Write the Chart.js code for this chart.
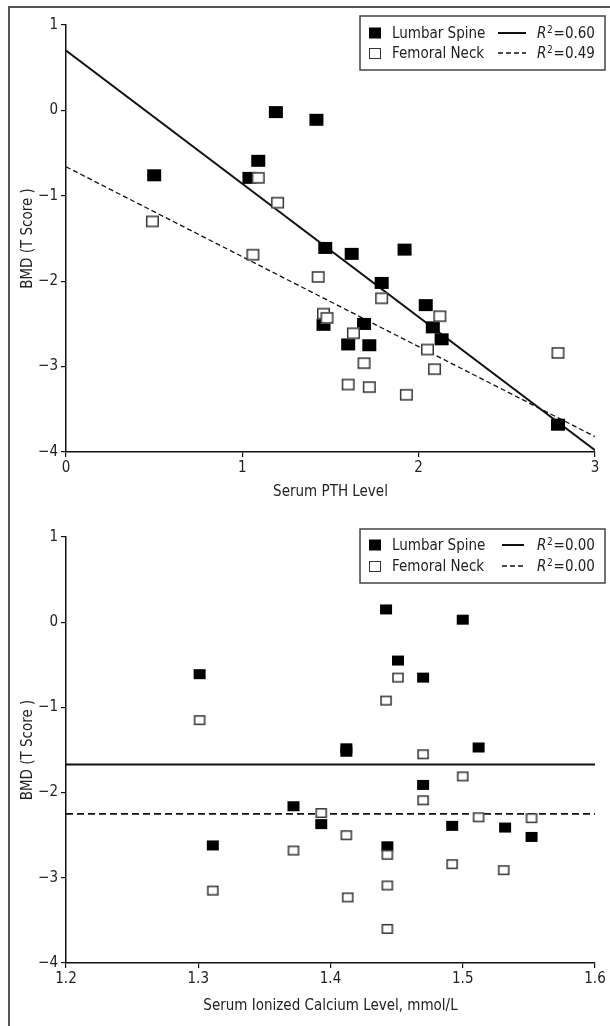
<!DOCTYPE html>
<html>
<head>
<meta charset="utf-8">
<script src="https://cdn.jsdelivr.net/npm/chart.js@4"></script>
<style>
  html, body { margin: 0; padding: 0; background: #fff; overflow: hidden; }
  body { width: 610px; height: 1026px; position: relative; }
  #frame { position: absolute; left: 8px; top: 6px; width: 700px; height: 1100px; border: 2px solid #555; box-sizing: border-box; }
  canvas { position: absolute; left: 0; }
  #pthChart { top: 0; }
  #caChart { top: 510px; }
</style>
</head>
<body>
<div id="frame"></div>
<canvas id="pthChart" width="610" height="510"></canvas>
<canvas id="caChart" width="610" height="516"></canvas>
<script>
// Datos del panel superior (PTH)
const pthLumbarX = [0.50, 1.19, 1.42, 1.09, 1.04, 1.47, 1.62, 1.92, 1.79, 2.04, 2.08, 2.13, 1.69, 1.46, 1.60, 1.72, 2.79];
const pthLumbarY = [-0.76, -0.02, -0.11, -0.59, -0.79, -1.61, -1.68, -1.63, -2.02, -2.28, -2.54, -2.68, -2.50, -2.51, -2.74, -2.75, -3.68];
const pthFemoralX = [0.49, 1.09, 1.20, 1.06, 1.43, 1.79, 1.46, 1.48, 2.12, 1.63, 2.05, 2.09, 1.69, 1.60, 1.72, 1.93, 2.79];
const pthFemoralY = [-1.30, -0.79, -1.08, -1.69, -1.95, -2.20, -2.38, -2.43, -2.41, -2.61, -2.80, -3.03, -2.96, -3.21, -3.24, -3.33, -2.84];
const pthFitX = [0, 3];
const pthLumbarFit = [0.70, -3.98];
const pthFemoralFit = [-0.66, -3.82];
const pthR2 = ['0.60', '0.49'];

// Datos del panel inferior (calcio ionizado)
const caLumbarX = [1.301, 1.442, 1.500, 1.451, 1.470, 1.412, 1.412, 1.512, 1.470, 1.372, 1.393, 1.311, 1.443, 1.492, 1.532, 1.552];
const caLumbarY = [-0.61, 0.15, 0.03, -0.45, -0.65, -1.48, -1.52, -1.47, -1.91, -2.16, -2.37, -2.62, -2.63, -2.39, -2.41, -2.52];
const caFemoralX = [1.301, 1.451, 1.442, 1.470, 1.500, 1.470, 1.393, 1.412, 1.512, 1.552, 1.372, 1.443, 1.492, 1.531, 1.311, 1.443, 1.413, 1.443];
const caFemoralY = [-1.15, -0.65, -0.92, -1.55, -1.81, -2.09, -2.24, -2.50, -2.29, -2.30, -2.68, -2.73, -2.84, -2.91, -3.15, -3.09, -3.23, -3.60];
const caFitX = [1.2, 1.6];
const caLumbarFit = [-1.67, -1.67];
const caFemoralFit = [-2.25, -2.25];
const caR2 = ['0.00', '0.00'];

// Etiquetas de ejes
const pthTicks = [0, 1, 2, 3];
const caTicks = [1.2, 1.3, 1.4, 1.5, 1.6];
const bmdTicks = [-4, -3, -2, -1, 0, 1];
const seriesNames = ['Lumbar Spine', 'Femoral Neck'];

const FONT = "'DejaVu Sans Condensed', 'Liberation Sans', sans-serif";
const INK = '#222';

function toPoints(xs, ys) {
    return xs.map((x, i) => ({ x: x, y: ys[i] }));
}

function minus(v) {
    return String(v).replace('-', '\u2212');
}

// Marcador rectangular (un poco más ancho que alto, como en la figura)
function marker(w, h, filled) {
    const cv = document.createElement('canvas');
    cv.width = Math.ceil(w) + 2;
    cv.height = Math.ceil(h) + 2;
    const c = cv.getContext('2d');
    const ox = (cv.width - w) / 2, oy = (cv.height - h) / 2;
    if (filled) {
        c.fillStyle = '#000';
        c.fillRect(ox, oy, w, h);
    } else {
        c.fillStyle = '#fff';
        c.fillRect(ox, oy, w, h);
        c.strokeStyle = '#333';
        c.lineWidth = 1.5;
        c.strokeRect(ox + 0.75, oy + 0.75, w - 1.5, h - 1.5);
    }
    return cv;
}

// Leyenda dibujada a mano (caja con cuadros, lineas y R²)
function legendPlugin(box, r2) {
    return {
        id: 'boxLegend',
        afterDatasetsDraw(chart) {
            const c = chart.ctx;
            c.save();
            c.fillStyle = '#fff';
            c.fillRect(box.x, box.y, box.w, box.h);
            c.strokeStyle = '#444';
            c.lineWidth = 1.5;
            c.strokeRect(box.x, box.y, box.w, box.h);
            c.textBaseline = 'middle';
            box.rows.forEach((ry, i) => {
                const cy = box.y + ry;
                if (i === 0) {
                    c.fillStyle = '#000';
                    c.fillRect(box.x + 9, cy - 5.5, 12, 11);
                } else {
                    c.fillStyle = '#fff';
                    c.fillRect(box.x + 9, cy - 5, 11, 10);
                    c.strokeStyle = '#333';
                    c.lineWidth = 1;
                    c.strokeRect(box.x + 9.5, cy - 4.5, 11, 10);
                }
                c.fillStyle = INK;
                c.font = '15px ' + FONT;
                c.textAlign = 'left';
                c.fillText(seriesNames[i], box.x + 32, cy + 1);
                c.strokeStyle = '#111';
                c.lineWidth = i === 0 ? 2 : 1.3;
                c.setLineDash(i === 0 ? [] : [5, 3]);
                c.beginPath();
                c.moveTo(box.lineX0, cy);
                c.lineTo(box.lineX1, cy);
                c.stroke();
                c.setLineDash([]);
                let x = box.x + 177;
                c.font = 'oblique 15px ' + FONT;
                c.fillText('R', x, cy + 1);
                x += c.measureText('R').width + 0.5;
                c.font = '10px ' + FONT;
                c.fillText('2', x, cy - 3);
                x += c.measureText('2').width + 1;
                c.font = '15px ' + FONT;
                c.fillText('=' + r2[i], x, cy + 1);
            });
            c.restore();
        }
    };
}

function makeChart(id, opts) {
    const ctx = document.getElementById(id).getContext('2d');
    const m = opts.marker;
    return new Chart(ctx, {
        type: 'scatter',
        data: {
            datasets: [
                {
                    label: seriesNames[1],
                    data: toPoints(opts.femX, opts.femY),
                    pointStyle: marker(m.ow, m.oh, false),
                    order: 0
                },
                {
                    label: seriesNames[0],
                    data: toPoints(opts.lumX, opts.lumY),
                    pointStyle: marker(m.fw, m.fh, true),
                    order: 1
                },
                {
                    type: 'line',
                    data: toPoints(opts.fitX, opts.lumFit),
                    borderColor: '#111',
                    borderWidth: 2,
                    pointRadius: 0,
                    order: 2
                },
                {
                    type: 'line',
                    data: toPoints(opts.fitX, opts.femFit),
                    borderColor: '#111',
                    borderWidth: opts.dashWidth,
                    borderDash: opts.dash,
                    pointRadius: 0,
                    order: 2
                }
            ]
        },
        options: {
            responsive: false,
            animation: false,
            layout: { padding: { left: 0, right: 15, top: opts.top, bottom: 0 } },
            plugins: { legend: { display: false }, tooltip: { enabled: false } },
            scales: {
                x: {
                    type: 'linear',
                    min: opts.xTicks[0],
                    max: opts.xTicks[opts.xTicks.length - 1],
                    afterBuildTicks: s => { s.ticks = opts.xTicks.map(v => ({ value: v })); },
                    afterFit: s => { s.height = opts.xHeight; },
                    border: { display: true, color: '#111', width: 1.5 },
                    grid: { display: true, drawOnChartArea: false, drawTicks: true, tickLength: 5, color: '#111', lineWidth: 1.2 },
                    ticks: {
                        color: INK, padding: 2,
                        font: { family: FONT, size: 15 },
                        callback: v => opts.xFmt(v)
                    },
                    title: {
                        display: true, text: opts.xTitle, color: INK,
                        font: { family: FONT, size: 15 },
                        padding: { top: 0, bottom: opts.titlePad }
                    }
                },
                y: {
                    type: 'linear',
                    min: -4, max: 1,
                    afterBuildTicks: s => { s.ticks = bmdTicks.map(v => ({ value: v })); },
                    afterFit: s => { s.width = 66; },
                    border: { display: true, color: '#111', width: 1.5 },
                    grid: { display: true, drawOnChartArea: false, drawTicks: true, tickLength: 5, color: '#111', lineWidth: 1.2 },
                    ticks: {
                        color: INK, padding: 3,
                        font: { family: FONT, size: 15 },
                        callback: v => minus(v)
                    },
                    title: {
                        display: true, text: 'BMD (T Score )', color: INK,
                        font: { family: FONT, size: 15 },
                        padding: { top: 19, bottom: 0 }
                    }
                }
            }
        },
        plugins: [legendPlugin(opts.legend, opts.r2)]
    });
}

makeChart('pthChart', {
    lumX: pthLumbarX, lumY: pthLumbarY,
    femX: pthFemoralX, femY: pthFemoralY,
    fitX: pthFitX, lumFit: pthLumbarFit, femFit: pthFemoralFit,
    r2: pthR2,
    xTicks: pthTicks, xFmt: v => String(v),
    xTitle: 'Serum PTH Level',
    top: 25, xHeight: 58, titlePad: 9,
    marker: { fw: 14, fh: 12, ow: 13, oh: 11.5 },
    dash: [5, 3], dashWidth: 1.3,
    legend: { x: 360, y: 16, w: 245, h: 54, rows: [17, 37], lineX0: 498, lineX1: 526 }
});

makeChart('caChart', {
    lumX: caLumbarX, lumY: caLumbarY,
    femX: caFemoralX, femY: caFemoralY,
    fitX: caFitX, lumFit: caLumbarFit, femFit: caFemoralFit,
    r2: caR2,
    xTicks: caTicks, xFmt: v => v.toFixed(1),
    xTitle: 'Serum Ionized Calcium Level, mmol/L',
    top: 27, xHeight: 63, titlePad: 11,
    marker: { fw: 12, fh: 10, ow: 11.5, oh: 10 },
    dash: [7, 4], dashWidth: 1.8,
    legend: { x: 360, y: 19, w: 245, h: 54, rows: [16, 37], lineX0: 502, lineX1: 524 }
});
</script>
</body>
</html>
